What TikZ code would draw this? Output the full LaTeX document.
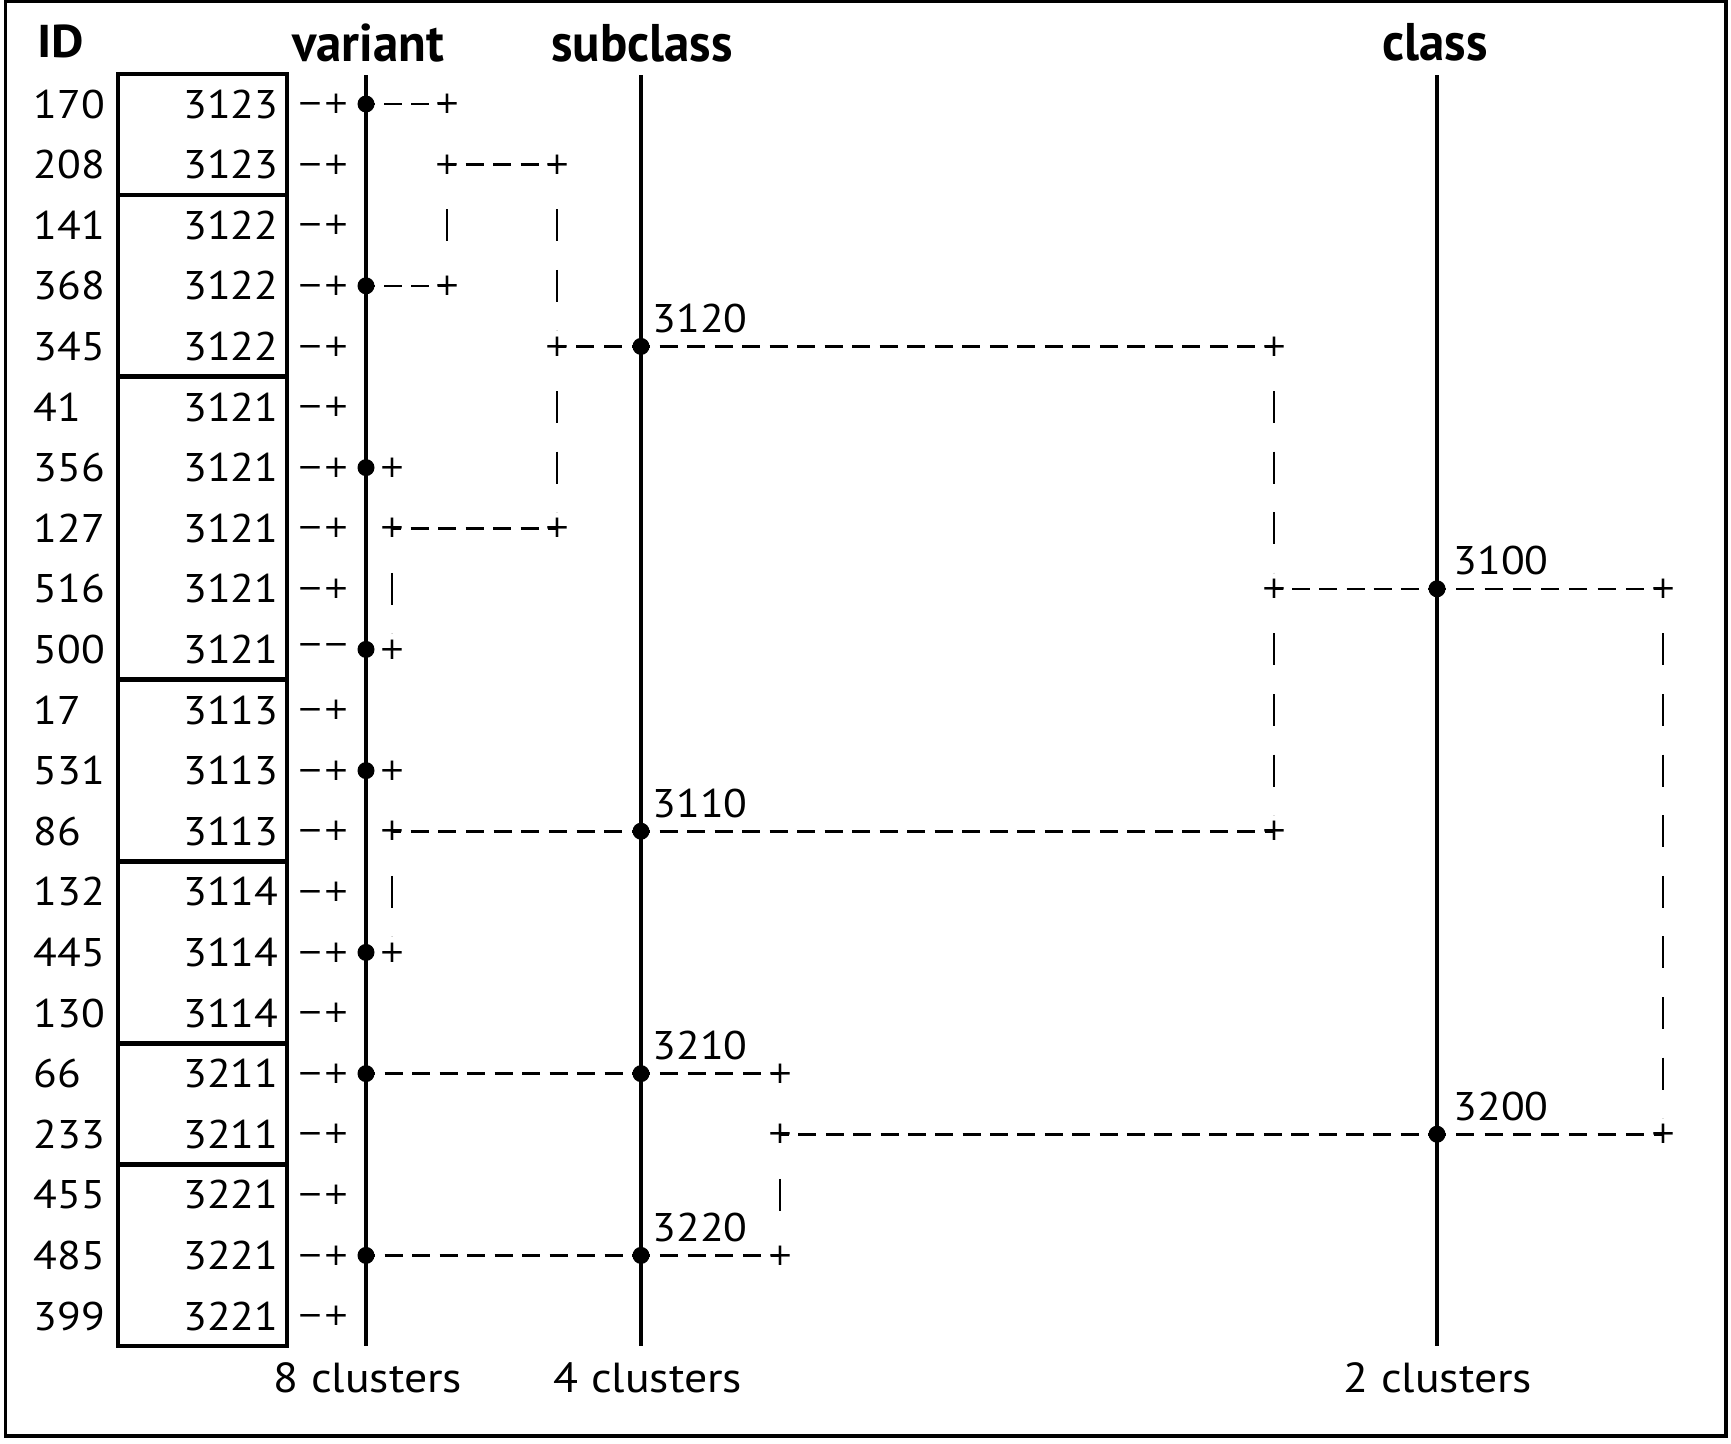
\documentclass[tikz,border=0pt]{standalone}
\usepackage{fontspec}
\setmainfont[FakeStretch=1.09]{PT Sans}
\newfontfamily\headfont[FakeStretch=0.96]{PT Sans}
\newfontfamily\symfont{DejaVu Sans}
\usetikzlibrary{calc}

\tikzset{every picture/.style={line width=1pt}}
\tikzset{
  txt/.style={inner sep=0pt, font=\fontsize{40}{48}\selectfont},
  head/.style={inner sep=0pt, font=\headfont\bfseries\fontsize{53}{60}\selectfont},
  foot/.style={inner sep=0pt, font=\fontsize{42}{50}\selectfont},
  plus/.style={inner sep=0pt, font=\symfont\fontsize{31}{36}\selectfont},
  dot/.style={circle, fill=black, inner sep=0pt, minimum size=17pt},
  axis/.style={line width=4pt},
  link/.style={line width=2.6pt, dash pattern=on 18pt off #1, dash phase=9pt},
  link/.default=9.5pt,
  bar/.style={line width=2.4pt, dash pattern=on 32pt off 28.6pt, dash phase=32pt,
    shorten <=16pt, shorten >=16pt},
}

\begin{document}
\begin{tikzpicture}[x=1pt,y=1pt,yscale=-1,xscale=1]
    \useasboundingbox (0,0) rectangle (1731,1443);
    % frame
    \draw [line width=3.3pt] (5.5,1.8) rectangle (1726,1436);

    % ID column, variant box, stubs
    \foreach \id/\val/\stub [count=\i from 0] in {170/3123/{−+},208/3123/{−+},141/3122/{−+},368/3122/{−+},345/3122/{−+},
      41/3121/{−+},356/3121/{−+},127/3121/{−+},516/3121/{−+},500/3121/{−−},17/3113/{−+},531/3113/{−+},86/3113/{−+},
      132/3114/{−+},445/3114/{−+},130/3114/{−+},66/3211/{−+},233/3211/{−+},455/3221/{−+},485/3221/{−+},399/3221/{−+}} {
      \node [txt, anchor=west] (id\i) at (33,{104+60.6*\i}) {\id};
      \node [txt, anchor=east] (val\i) at (279,{104+60.6*\i}) {\val};
      \node [plus, anchor=west] (stub\i) at (297,{104+60.6*\i}) {\stub};
    }
    \draw [line width=4.5pt] (118,74) rectangle (287,1346);
    \foreach \r in {1,4,9,12,15,17}
      \draw [line width=4.5pt] (118,{104+60.6*(\r+0.5)}) -- (287,{104+60.6*(\r+0.5)});

    % level axes
    \draw [axis] (366,75) -- (366,1346);
    \draw [axis] (641,75) -- (641,1346);
    \draw [axis] (1437,75) -- (1437,1346);

    % merge points
    \foreach \i in {0,3,6,9,11,14,16,19}
      \node [dot] (v\i) at (366,{104+60.6*\i}) {};
    \foreach \i in {4,12,16,19}
      \node [dot] (s\i) at (641,{104+60.6*\i}) {};
    \foreach \i in {8,17}
      \node [dot] (k\i) at (1437,{104+60.6*\i}) {};

    % plus joints
    \foreach \n/\x/\i in {a6/392/6,a7/392/7,a9/392/9,a11/392/11,a12/392/12,a14/392/14,
      b0/447/0,b1/447/1,b3/447/3,c1/557/1,c4/557/4,c7/557/7,
      d16/780/16,d17/780/17,d19/780/19,e4/1274/4,e8/1274/8,e12/1274/12,f8/1663/8,f17/1663/17}
      \node [plus] (\n) at (\x,{104+60.6*\i}) {+};

    % horizontal links (off length fitted per run)
    \draw [link=9pt] (v0.center) -- (b0.center);
    \draw [link=9pt] (v3.center) -- (b3.center);
    \draw [link] (b1.center) -- (c1.center);
    \draw [link] (a7.center) -- (c7.center);
    \draw [link=10pt] (c4.center) -- (s4.center);
    \draw [link=9.52pt] (s4.center) -- (e4.center);
    \draw [link=9.67pt] (a12.center) -- (s12.center);
    \draw [link=9.52pt] (s12.center) -- (e12.center);
    \draw [link] (v16.center) -- (s16.center);
    \draw [link=9.8pt] (s16.center) -- (d16.center);
    \draw [link] (v19.center) -- (s19.center);
    \draw [link=9.8pt] (s19.center) -- (d19.center);
    \draw [link=9.17pt] (e8.center) -- (k8.center);
    \draw [link=10.25pt] (k8.center) -- (f8.center);
    \draw [link=9.375pt] (d17.center) -- (k17.center);
    \draw [link=10.25pt] (k17.center) -- (f17.center);

    % vertical links
    \foreach \p/\q in {b1/b3,c1/c4,c4/c7,a7/a9,a12/a14,e4/e8,e8/e12,f8/f17,d17/d19}
      \draw [bar] (\p.center) -- (\q.center);

    % cluster labels
    \node [txt, anchor=south west] (l3120) at ($(s4)+(11,-13)$) {3120};
    \node [txt, anchor=south west] (l3110) at ($(s12)+(11,-13)$) {3110};
    \node [txt, anchor=south west] (l3210) at ($(s16)+(11,-13)$) {3210};
    \node [txt, anchor=south west] (l3220) at ($(s19)+(11,-13)$) {3220};
    \node [txt, anchor=south west] (l3100) at ($(k8)+(16,-13)$) {3100};
    \node [txt, anchor=south west] (l3200) at ($(k17)+(16,-13)$) {3200};

    % headers
    \node [inner sep=0pt, font=\bfseries\fontsize{46}{54}\selectfont, anchor=base west] (hid) at (37,57) {ID};
    \node [head, anchor=base] (hvar) at (368,61) {variant};
    \node [head, anchor=base] (hsub) at (642,61) {subclass};
    \node [head, anchor=base] (hcls) at (1435,60) {class};

    % footers
    \node [foot, anchor=base] (n8) at (368,1392) {8 clusters};
    \node [foot, anchor=base] (n4) at (648,1392) {4 clusters};
    \node [foot, anchor=base] (n2) at (1438,1392) {2 clusters};
\end{tikzpicture}
\end{document}
